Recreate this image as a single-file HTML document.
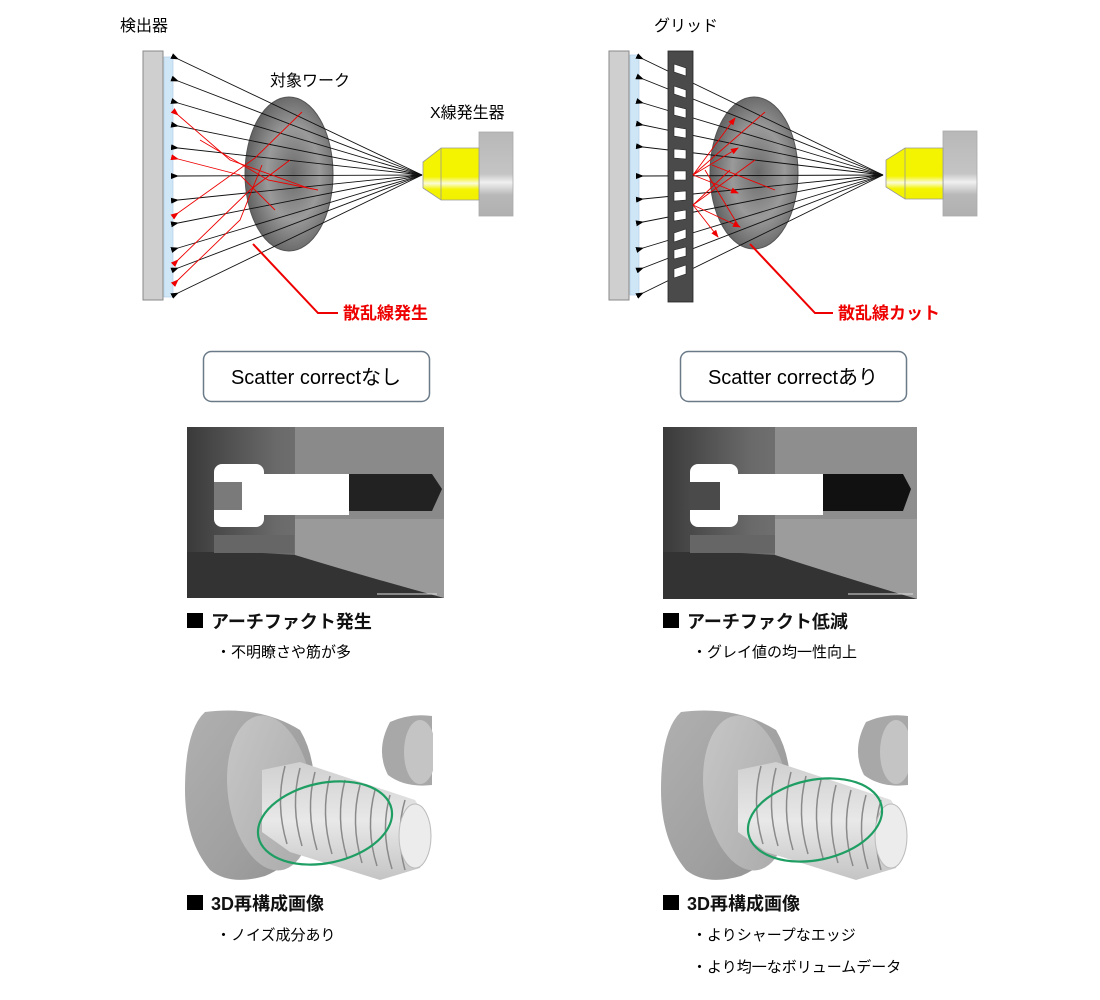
<!DOCTYPE html>
<html><head><meta charset="utf-8"><style>
html,body{margin:0;padding:0;background:#fff;}
body{width:1100px;height:1000px;overflow:hidden;position:relative;font-family:"Liberation Sans","Noto Sans CJK JP",sans-serif;}
svg{position:absolute;left:0;top:0;}
</style></head><body>
<svg width="1100" height="1000" viewBox="0 0 1100 1000" xmlns="http://www.w3.org/2000/svg" font-family="Liberation Sans, Noto Sans CJK JP, sans-serif">
<defs>
<marker id="ab" markerWidth="8" markerHeight="6" refX="1" refY="3" orient="auto-start-reverse" markerUnits="userSpaceOnUse"><path d="M0,3 L8,0 L8,6 Z" fill="#000"/></marker>
<marker id="ar" markerWidth="8" markerHeight="6" refX="1" refY="3" orient="auto-start-reverse" markerUnits="userSpaceOnUse"><path d="M0,3 L8,0 L8,6 Z" fill="#e00"/></marker>
<marker id="ar2" markerWidth="8" markerHeight="6" refX="7" refY="3" orient="auto" markerUnits="userSpaceOnUse"><path d="M0,0 L8,3 L0,6 Z" fill="#e00"/></marker>
<radialGradient id="ell" cx="0.55" cy="0.5" r="0.6"><stop offset="0" stop-color="#6a6a6a"/><stop offset="0.5" stop-color="#9a9a9a"/><stop offset="1" stop-color="#555"/></radialGradient>
<linearGradient id="yel" x1="0" y1="0" x2="0" y2="1"><stop offset="0" stop-color="#f4f400"/><stop offset="0.55" stop-color="#f4f400"/><stop offset="0.68" stop-color="#fbfbd8"/><stop offset="0.8" stop-color="#f4f400"/><stop offset="1" stop-color="#f0f000"/></linearGradient>
<linearGradient id="gbox" x1="0" y1="0" x2="0" y2="1"><stop offset="0" stop-color="#b8b8b8"/><stop offset="0.5" stop-color="#c4c4c4"/><stop offset="0.6" stop-color="#f0f0f0"/><stop offset="0.75" stop-color="#b8b8b8"/><stop offset="1" stop-color="#b0b0b0"/></linearGradient>
<linearGradient id="ctbg" x1="0" y1="0" x2="1" y2="0"><stop offset="0" stop-color="#3a3a3a"/><stop offset="0.35" stop-color="#6a6a6a"/><stop offset="1" stop-color="#8c8c8c"/></linearGradient>
<linearGradient id="head" x1="0" y1="0" x2="1" y2="1"><stop offset="0" stop-color="#b0b0b0"/><stop offset="0.6" stop-color="#a0a0a0"/><stop offset="1" stop-color="#909090"/></linearGradient>
<linearGradient id="face" x1="0" y1="0" x2="1" y2="1"><stop offset="0" stop-color="#c8c8c8"/><stop offset="1" stop-color="#a8a8a8"/></linearGradient>
<linearGradient id="thr" x1="0" y1="0" x2="0" y2="1"><stop offset="0" stop-color="#d0d0d0"/><stop offset="0.5" stop-color="#e8e8e8"/><stop offset="1" stop-color="#c4c4c4"/></linearGradient>
</defs>

<!-- ========== LEFT DIAGRAM ========== -->
<text x="120" y="31" font-size="16" fill="#000">検出器</text>
<rect x="143" y="51" width="20" height="249" fill="#cfcfcf" stroke="#8a8a8a" stroke-width="1"/>
<rect x="164" y="57" width="9" height="240" fill="#cfe6f7" stroke="#a9c8e0" stroke-width="0.6"/>
<ellipse cx="289" cy="174" rx="44" ry="77" fill="url(#ell)" stroke="#555" stroke-width="1"/>
<g stroke="#111" stroke-width="0.9" fill="none" marker-end="url(#ab)">
<line x1="422" y1="175" x2="178" y2="59"/><line x1="422" y1="175" x2="178" y2="81"/>
<line x1="422" y1="175" x2="178" y2="103"/><line x1="422" y1="175" x2="178" y2="126"/>
<line x1="422" y1="175" x2="178" y2="148"/><line x1="422" y1="175" x2="178" y2="176"/>
<line x1="422" y1="175" x2="178" y2="200"/><line x1="422" y1="175" x2="178" y2="223"/>
<line x1="422" y1="175" x2="178" y2="248"/><line x1="422" y1="175" x2="178" y2="268"/>
<line x1="422" y1="175" x2="178" y2="293"/>
</g>
<g stroke="#e00" stroke-width="0.9" fill="none">
<polyline points="302,112 255,158 178,213" marker-end="url(#ar)"/>
<polyline points="308,188 230,160 178,115" marker-end="url(#ar)"/>
<polyline points="290,160 250,190 178,260" marker-end="url(#ar)"/>
<polyline points="275,210 240,175 178,159" marker-end="url(#ar)"/>
<polyline points="262,165 240,220 178,280" marker-end="url(#ar)"/>
<polyline points="318,190 268,180 200,140"/>
</g>
<text x="270" y="86" font-size="16" fill="#000">対象ワーク</text>
<text x="430" y="118" font-size="16" fill="#000">X線発生器</text>
<rect x="479" y="132" width="34" height="84" fill="url(#gbox)" stroke="#aaa" stroke-width="0.8"/>
<polygon points="423,162 441,148 479,148 479,200 441,200 423,188" fill="url(#yel)" stroke="#999" stroke-width="0.8"/>
<line x1="441" y1="148" x2="441" y2="200" stroke="#999" stroke-width="0.8"/>
<polyline points="253,244 318,313 338,313" fill="none" stroke="#e00" stroke-width="2"/>
<text x="343" y="319" font-size="17" font-weight="bold" fill="#e00">散乱線発生</text>

<!-- ========== RIGHT DIAGRAM ========== -->
<text x="654" y="31" font-size="16" fill="#000">グリッド</text>
<rect x="609" y="51" width="20" height="249" fill="#cfcfcf" stroke="#8a8a8a" stroke-width="1"/>
<rect x="630" y="55" width="9" height="240" fill="#cfe6f7" stroke="#a9c8e0" stroke-width="0.6"/>
<ellipse cx="754" cy="173" rx="44" ry="76" fill="url(#ell)" stroke="#555" stroke-width="1"/>
<g stroke="#111" stroke-width="0.9" fill="none" marker-end="url(#ab)">
<line x1="883" y1="175" x2="643" y2="59"/><line x1="883" y1="175" x2="643" y2="79"/>
<line x1="883" y1="175" x2="643" y2="103"/><line x1="883" y1="175" x2="643" y2="125"/>
<line x1="883" y1="175" x2="643" y2="147"/><line x1="883" y1="175" x2="643" y2="176"/>
<line x1="883" y1="175" x2="643" y2="199"/><line x1="883" y1="175" x2="643" y2="222"/>
<line x1="883" y1="175" x2="643" y2="248"/><line x1="883" y1="175" x2="643" y2="268"/>
<line x1="883" y1="175" x2="643" y2="293"/>
</g>
<rect x="668" y="51" width="25" height="251" fill="#4a4a4a" stroke="#222" stroke-width="0.8"/>
<g fill="#fff" stroke="#222" stroke-width="0.6">
<polygon points="674,64 686,68 686,76 674,72"/><polygon points="674,86 686,90 686,98 674,94"/>
<polygon points="674,106 686,109 686,118 674,115"/><polygon points="674,127 686,129 686,138 674,136"/>
<polygon points="674,149 686,150 686,159 674,158"/><polygon points="674,171 686,171 686,180 674,180"/>
<polygon points="674,192 686,191 686,200 674,201"/><polygon points="674,212 686,210 686,219 674,221"/>
<polygon points="674,233 686,229 686,238 674,242"/><polygon points="674,250 686,247 686,256 674,259"/>
<polygon points="674,269 686,265 686,274 674,278"/>
</g>
<g stroke="#e00" stroke-width="0.9" fill="none">
<polyline points="693,175 735,118" marker-end="url(#ar2)"/>
<polyline points="693,175 738,148" marker-end="url(#ar2)"/>
<polyline points="693,175 738,193" marker-end="url(#ar2)"/>
<polyline points="693,175 765,112"/>
<polyline points="693,205 740,227" marker-end="url(#ar2)"/>
<polyline points="693,205 718,237" marker-end="url(#ar2)"/>
<polyline points="693,205 730,170"/>
<polyline points="693,205 755,160"/>
<polyline points="712,165 775,190"/>
<polyline points="705,170 738,225"/>
</g>
<rect x="943" y="131" width="34" height="85" fill="url(#gbox)" stroke="#aaa" stroke-width="0.8"/>
<polygon points="886,160 905,148 943,148 943,199 905,199 886,187" fill="url(#yel)" stroke="#999" stroke-width="0.8"/>
<line x1="905" y1="148" x2="905" y2="199" stroke="#999" stroke-width="0.8"/>
<polyline points="750,244 815,313 833,313" fill="none" stroke="#e00" stroke-width="2"/>
<text x="838" y="319" font-size="17" font-weight="bold" fill="#e00">散乱線カット</text>

<!-- ========== BOXES ========== -->
<rect x="203.5" y="351.5" width="226" height="50" rx="8" fill="#fff" stroke="#6a7a88" stroke-width="1.5"/>
<text x="316" y="384" font-size="20" text-anchor="middle" fill="#000">Scatter correctなし</text>
<rect x="680.5" y="351.5" width="226" height="50" rx="8" fill="#fff" stroke="#6a7a88" stroke-width="1.5"/>
<text x="793" y="384" font-size="20" text-anchor="middle" fill="#000">Scatter correctあり</text>

<!-- ========== CT IMAGES ========== -->
<g transform="translate(187,427)">
<rect width="257" height="171" fill="url(#ctbg)"/>
<rect x="108" y="0" width="149" height="95" fill="#8a8a8a"/>
<rect x="108" y="92" width="149" height="79" fill="#9a9a9a"/>
<path d="M0,125 L60,125 L108,128 Q180,150 257,171 L0,171 Z" fill="#333"/>
<rect x="27" y="108" width="80" height="18" fill="#666"/>
<polygon points="158,47 245,47 255,62 245,84 158,84" fill="#222"/>
<rect x="27" y="37" width="50" height="63" rx="8" fill="#fff"/>
<rect x="27" y="55" width="28" height="28" fill="#7a7a7a"/>
<rect x="70" y="47" width="92" height="41" fill="#fff"/>
<line x1="190" y1="167" x2="250" y2="167" stroke="#ddd" stroke-width="1"/>
</g>
<g transform="translate(663,427)">
<rect width="254" height="172" fill="url(#ctbg)"/>
<rect x="112" y="0" width="142" height="95" fill="#8e8e8e"/>
<rect x="112" y="92" width="142" height="80" fill="#9c9c9c"/>
<path d="M0,125 L60,125 L112,128 Q180,150 254,172 L0,172 Z" fill="#333"/>
<rect x="27" y="108" width="85" height="18" fill="#666"/>
<polygon points="158,47 240,47 248,62 240,84 158,84" fill="#111"/>
<rect x="27" y="37" width="48" height="63" rx="8" fill="#fff"/>
<rect x="27" y="55" width="30" height="28" fill="#4a4a4a"/>
<rect x="70" y="47" width="90" height="41" fill="#fff"/>
<line x1="185" y1="167" x2="250" y2="167" stroke="#ddd" stroke-width="1"/>
</g>

<!-- captions CT -->
<rect x="187" y="613" width="16" height="15" fill="#000"/>
<text x="211" y="628" font-size="18" font-weight="bold" fill="#111">アーチファクト発生</text>
<text x="216" y="657" font-size="15" fill="#000">・不明瞭さや筋が多</text>
<rect x="663" y="613" width="16" height="15" fill="#000"/>
<text x="687" y="628" font-size="18" font-weight="bold" fill="#111">アーチファクト低減</text>
<text x="692" y="657" font-size="15" fill="#000">・グレイ値の均一性向上</text>

<!-- ========== 3D IMAGES ========== -->
<g id="bolt">
<!-- small second bolt -->
<path d="M390,722 Q410,713 432,716 L432,785 Q405,788 388,775 Q375,750 390,722 Z" fill="#a8a8a8"/>
<ellipse cx="420" cy="752" rx="16" ry="32" fill="#c4c4c4"/>
<!-- head -->
<path d="M205,712 Q260,705 300,730 Q318,760 314,810 Q304,860 265,876 Q230,886 210,870 Q185,840 185,790 Q185,730 205,712 Z" fill="url(#head)"/>
<ellipse cx="270" cy="793" rx="42" ry="78" transform="rotate(-8 270 793)" fill="url(#face)"/>
<!-- thread -->
<path d="M262,770 L300,762 L415,800 Q435,830 420,868 L380,880 L290,852 L262,832 Z" fill="url(#thr)"/>
<g stroke="#8a8a8a" stroke-width="1.5" fill="none">
<path d="M285,766 q-10,38 2,78"/><path d="M300,768 q-10,38 2,78"/><path d="M315,772 q-10,38 2,78"/>
<path d="M330,776 q-10,38 2,78"/><path d="M345,780 q-10,38 2,78"/><path d="M360,785 q-10,38 2,78"/>
<path d="M375,790 q-10,38 2,76"/><path d="M390,795 q-10,36 2,74"/><path d="M405,800 q-10,34 0,70"/>
</g>
<ellipse cx="415" cy="836" rx="16" ry="32" fill="#ececec" stroke="#bbb" stroke-width="1"/>
</g>
<ellipse cx="325" cy="823" rx="68" ry="40" transform="rotate(-12 325 823)" fill="none" stroke="#1f9e63" stroke-width="2.2"/>
<use href="#bolt" transform="translate(476,0)"/>
<ellipse cx="815" cy="820" rx="68" ry="40" transform="rotate(-12 815 820)" fill="none" stroke="#1f9e63" stroke-width="2.2"/>
<rect x="908" y="700" width="40" height="100" fill="#fff"/>
<rect x="433" y="700" width="40" height="100" fill="#fff"/>

<!-- captions 3D -->
<rect x="187" y="895" width="16" height="15" fill="#000"/>
<text x="211" y="910" font-size="18" font-weight="bold" fill="#111">3D再構成画像</text>
<text x="216" y="940" font-size="15" fill="#000">・ノイズ成分あり</text>
<rect x="663" y="895" width="16" height="15" fill="#000"/>
<text x="687" y="910" font-size="18" font-weight="bold" fill="#111">3D再構成画像</text>
<text x="692" y="940" font-size="15" fill="#000">・よりシャープなエッジ</text>
<text x="692" y="972" font-size="15" fill="#000">・より均一なボリュームデータ</text>
</svg>
</body></html>
